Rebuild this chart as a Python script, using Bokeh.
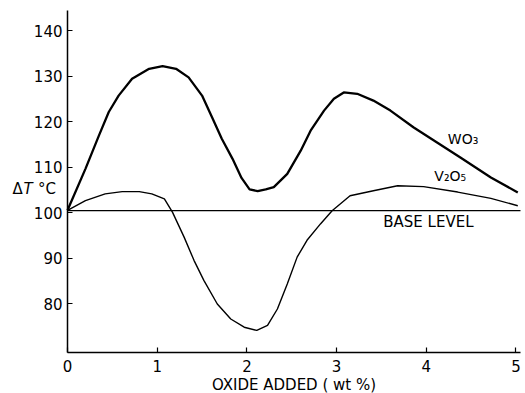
from bokeh.plotting import figure
from bokeh.models import Range1d, Label, FixedTicker
from bokeh.embed import file_html
from bokeh.resources import INLINE

# WO3 curve
wo3_x = [0, 0.2, 0.35, 0.46, 0.57, 0.72, 0.91, 1.06, 1.21, 1.35, 1.50, 1.61, 1.72, 1.84,
         1.94, 2.03, 2.12, 2.21, 2.30, 2.45, 2.60, 2.71, 2.86, 2.97, 3.08, 3.23, 3.41,
         3.60, 3.86, 4.12, 4.38, 4.72, 5.02]
wo3_y = [100.6, 109.7, 117.0, 122.2, 125.8, 129.5, 131.7, 132.3, 131.7, 129.8, 125.8, 121.1,
         116.3, 111.9, 107.7, 105.2, 104.8, 105.2, 105.7, 108.6, 113.7, 118.1, 122.5, 125.1,
         126.5, 126.2, 124.7, 122.5, 118.8, 115.5, 112.2, 107.8, 104.5]

# V2O5 curve
v2o5_x = [0, 0.2, 0.42, 0.61, 0.8, 0.94, 1.08, 1.17, 1.30, 1.41, 1.52, 1.67, 1.82, 1.97,
          2.11, 2.23, 2.34, 2.45, 2.56, 2.67, 2.82, 2.95, 3.15, 3.41, 3.68, 3.97, 4.35,
          4.72, 5.02]
v2o5_y = [100.6, 102.7, 104.2, 104.7, 104.7, 104.2, 103.1, 100.2, 94.7, 89.6, 85.2, 80.0,
          76.7, 74.9, 74.2, 75.3, 78.9, 84.4, 90.3, 94.0, 97.6, 100.5, 103.8, 104.9, 106.0,
          105.8, 104.6, 103.2, 101.6]

# base level
base_x = [0, 5.05]
base_y = [100.5, 100.5]

x_ticks = [0, 1, 2, 3, 4, 5]
y_ticks = [80, 90, 100, 110, 120, 130, 140]
x_bounds = (0, 5.05)
y_bounds = (69.4, 144.4)

FONT = "DejaVu Sans"

p = figure(width=525, height=393, output_backend="svg", toolbar_location=None,
           x_range=Range1d(-0.747, 5.106), y_range=Range1d(60.33, 146.7),
           min_border=0)
p.background_fill_color = "white"
p.border_fill_color = "white"
p.outline_line_color = None
p.grid.visible = False

for ax in (p.xaxis[0], p.yaxis[0]):
    ax.axis_line_color = "black"
    ax.axis_line_width = 1.5
    ax.major_tick_in = 5
    ax.major_tick_out = 0
    ax.minor_tick_line_color = None
    ax.major_tick_line_color = "black"
    ax.major_tick_line_width = 1.2
    ax.major_label_text_font = FONT
    ax.major_label_text_font_size = "15px"
    ax.major_label_text_color = "black"

p.xaxis[0].fixed_location = y_bounds[0]
p.yaxis[0].fixed_location = x_bounds[0]
p.xaxis[0].bounds = x_bounds
p.yaxis[0].bounds = y_bounds
p.xaxis[0].ticker = FixedTicker(ticks=x_ticks)
p.yaxis[0].ticker = FixedTicker(ticks=y_ticks)
p.xaxis[0].major_label_standoff = 8
p.yaxis[0].major_label_standoff = 5
p.xaxis[0].axis_label = "OXIDE ADDED ( wt %)"
p.xaxis[0].axis_label_text_font = FONT
p.xaxis[0].axis_label_text_font_size = "15px"
p.xaxis[0].axis_label_text_font_style = "normal"
p.xaxis[0].axis_label_text_color = "black"
p.xaxis[0].axis_label_standoff = 0

p.line(base_x, base_y, line_color="black", line_width=1.3)
p.line(v2o5_x, v2o5_y, line_color="black", line_width=1.4)
p.line(wo3_x, wo3_y, line_color="black", line_width=2.3)

def lab(x, y, t, size="15px", style="normal"):
    p.add_layout(Label(x=x, y=y, text=t, text_font=FONT, text_font_size=size,
                       text_font_style=style, text_color="black",
                       text_baseline="middle", text_align="left"))

lab(4.24, 116.2, "WO₃", "14px")
lab(4.09, 108.1, "V₂O₅", "14px")
lab(3.52, 98.1, "BASE LEVEL", "15px")
lab(-0.613, 105.2, "Δ", "15px")
lab(-0.49, 105.2, "T", "15px", "italic")
lab(-0.33, 105.2, "°C", "15px")

open("out.html", "w").write(file_html(p, INLINE))
